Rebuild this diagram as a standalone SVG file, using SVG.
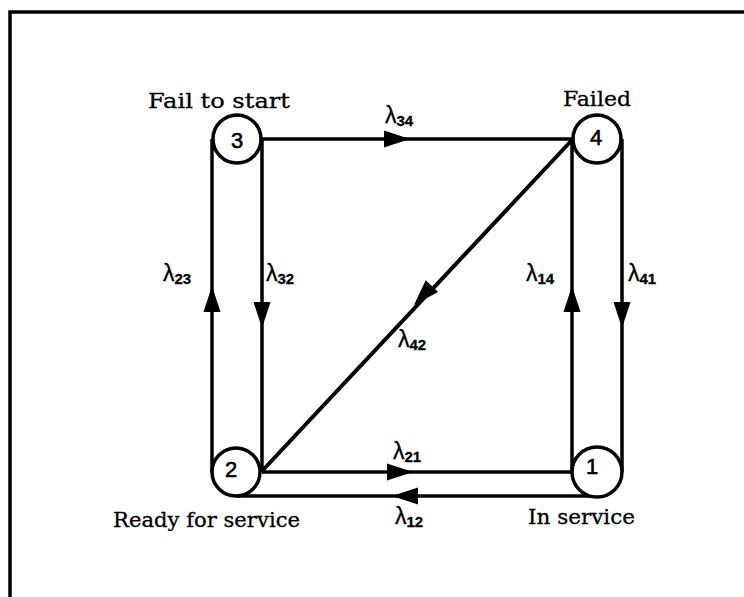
<svg xmlns="http://www.w3.org/2000/svg" xmlns:xlink="http://www.w3.org/1999/xlink" width="744" height="597" viewBox="0 0 744 597">
<style>
.frame{stroke:#000;stroke-width:3.5;fill:none}
.edge{stroke:#000;stroke-width:3.5;fill:none}
.node circle{fill:#fff;stroke:#000;stroke-width:3.5}
.num{font-family:"Liberation Sans",Arial,sans-serif;font-size:22px;text-anchor:middle;fill:#000;stroke:#000;stroke-width:0.6}
.name{font-family:"DejaVu Serif","Liberation Serif",serif;font-size:21px;fill:#000;stroke:#000;stroke-width:0.3}
.lam{font-family:"Liberation Sans",Arial,sans-serif;font-size:23px;fill:#000;stroke:#000;stroke-width:0.3}
.sub{font-size:15px;font-weight:bold}
</style>
<defs>
<path id="ah" d="M0,0 L-26,-8.5 L-26,8.5 Z" fill="#000"/>
</defs>
<rect width="744" height="597" fill="#fff"/>
<path class="frame" d="M10,597 L10,12 L744,12"/>

<g id="connectors">
<line class="edge" x1="212" y1="139" x2="212" y2="472"/>
<line class="edge" x1="262" y1="139" x2="262" y2="472"/>
<line class="edge" x1="572" y1="139" x2="572" y2="472"/>
<line class="edge" x1="622" y1="139" x2="622" y2="472"/>
<line class="edge" x1="262" y1="139" x2="572" y2="139"/>
<line class="edge" x1="572" y1="140" x2="263" y2="470" style="stroke-width:4"/>
<line class="edge" x1="262" y1="472" x2="572" y2="472"/>
<line class="edge" x1="236" y1="496" x2="597" y2="496"/>
<use xlink:href="#ah" transform="translate(410,139)"/>
<use xlink:href="#ah" transform="translate(262,328) rotate(90)"/>
<use xlink:href="#ah" transform="translate(212,286) rotate(-90)"/>
<use xlink:href="#ah" transform="translate(572,286) rotate(-90)"/>
<use xlink:href="#ah" transform="translate(622,328) rotate(90)"/>
<use xlink:href="#ah" transform="translate(414,305) rotate(133.4)"/>
<use xlink:href="#ah" transform="translate(413,472)"/>
<use xlink:href="#ah" transform="translate(392,496) rotate(180)"/>
<text class="lam" x="385" y="123">λ<tspan class="sub" dy="3">34</tspan></text>
<text class="lam" x="163" y="281">λ<tspan class="sub" dy="3">23</tspan></text>
<text class="lam" x="266" y="281">λ<tspan class="sub" dy="3">32</tspan></text>
<text class="lam" x="526" y="281">λ<tspan class="sub" dy="3">14</tspan></text>
<text class="lam" x="628" y="281">λ<tspan class="sub" dy="3">41</tspan></text>
<text class="lam" x="398" y="347">λ<tspan class="sub" dy="3">42</tspan></text>
<text class="lam" x="393" y="459">λ<tspan class="sub" dy="3">21</tspan></text>
<text class="lam" x="395" y="524">λ<tspan class="sub" dy="3">12</tspan></text>
</g>

<g id="node3" class="node">
<circle cx="237" cy="139" r="24"/>
<text class="num" x="237" y="148">3</text>
<text class="name" x="148" y="108" textLength="142" lengthAdjust="spacingAndGlyphs">Fail to start</text>
</g>
<g id="node4" class="node">
<circle cx="597" cy="139" r="24"/>
<text class="num" x="596" y="145">4</text>
<text class="name" x="563" y="106" textLength="68" lengthAdjust="spacingAndGlyphs">Failed</text>
</g>
<g id="node2" class="node">
<circle cx="236" cy="472" r="24"/>
<text class="num" x="231" y="477">2</text>
<text class="name" x="113" y="527" textLength="187" lengthAdjust="spacingAndGlyphs">Ready for service</text>
</g>
<g id="node1" class="node">
<circle cx="597" cy="472" r="25"/>
<text class="num" x="592" y="474">1</text>
<text class="name" x="528" y="524" textLength="107" lengthAdjust="spacingAndGlyphs">In service</text>
</g>
</svg>
